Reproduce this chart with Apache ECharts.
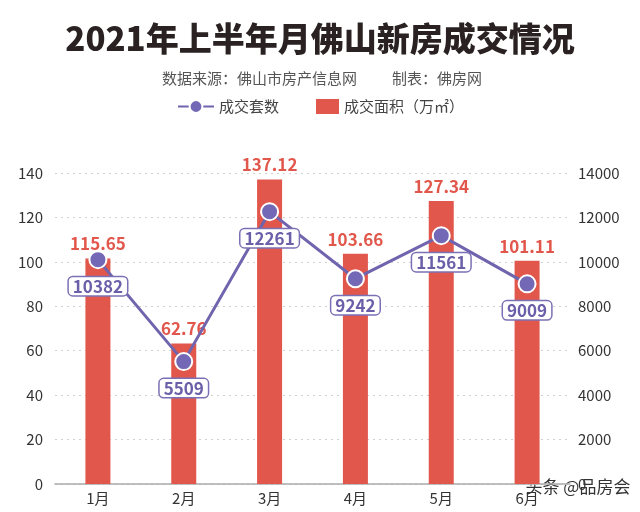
<!DOCTYPE html>
<html><head><meta charset="utf-8">
<script src="https://cdn.jsdelivr.net/npm/echarts@6/dist/echarts.min.js"></script>
<style>html,body{margin:0;padding:0;background:#fff}#c{width:640px;height:512px}</style>
</head><body><div id="c"></div>
<script>
var months = ['1月','2月','3月','4月','5月','6月'];
// bar heights as drawn in the picture, and the printed area labels
var areaDrawn = [101.5, 63.3, 137.12, 103.66, 127.34, 100.5];
var areaLabels = ['115.65','62.76','137.12','103.66','127.34','101.11'];
// line points as drawn, and the printed unit labels
var unitsDrawn = [10100, 5509, 12261, 9242, 11180, 9009];
var unitLabels = ['10382','5509','12261','9242','11561','9009'];
var leftTicks = [0,20,40,60,80,100,120,140];
var rightTicks = [0,2000,4000,6000,8000,10000,12000,14000];

var FONT = '"Noto Sans CJK SC", "Noto Sans", sans-serif';
var chart = echarts.init(document.getElementById('c'));
chart.setOption({
  backgroundColor: '#fff',
  textStyle: {fontFamily: FONT},
  animation: false,
  title: [
    {text: '2021年上半年月佛山新房成交情况', left: 'center', top: 17,
     textStyle: {fontSize: 33, fontWeight: 900, color: '#2a2222', fontFamily: FONT}},
    {text: '数据来源：佛山市房产信息网', left: 157, top: 66,
     textStyle: {fontSize: 15, fontWeight: 'normal', color: '#555', fontFamily: FONT}},
    {text: '制表：佛房网', left: 387, top: 66,
     textStyle: {fontSize: 15, fontWeight: 'normal', color: '#555', fontFamily: FONT}}
  ],
  legend: [
    {top: 94, left: 172, itemWidth: 36, itemHeight: 16, itemGap: 5,
     textStyle: {fontSize: 15, color: '#444', fontFamily: FONT},
     data: ['成交套数']},
    {top: 94, left: 311, itemWidth: 23, itemHeight: 15, itemGap: 5,
     textStyle: {fontSize: 15, color: '#444', fontFamily: FONT},
     data: [{name: '成交面积（万㎡）', icon: 'rect'}]}
  ],
  grid: {left: 55, right: 70, top: 173, bottom: 28},
  xAxis: {
    type: 'category', data: months,
    axisTick: {show: false},
    axisLine: {lineStyle: {color: '#aaa', width: 1.5}},
    axisLabel: {fontSize: 15, color: '#333', margin: 7}
  },
  yAxis: [
    {type: 'value', min: 0, max: 140, interval: 20,
     axisLine: {show: false}, axisTick: {show: false},
     axisLabel: {fontSize: 15, color: '#333', margin: 12,
       formatter: function (v) { return String(v); }},
     splitLine: {lineStyle: {color: '#d0d0d0', type: [2, 4], width: 1.2}}},
    {type: 'value', min: 0, max: 14000, interval: 2000,
     axisLine: {show: false}, axisTick: {show: false},
     axisLabel: {fontSize: 15, color: '#333', margin: 8,
       formatter: function (v) { return String(v); }},
     splitLine: {show: false}}
  ],
  series: [
    {name: '成交面积（万㎡）', type: 'bar', yAxisIndex: 0, barWidth: 25,
     data: areaDrawn,
     itemStyle: {color: '#e2574c'},
     z: 1,
     label: {show: true, position: 'top', distance: 6,
       formatter: function (p) { return areaLabels[p.dataIndex]; },
       fontSize: 17, fontWeight: 'bold', color: '#e2574c', fontFamily: FONT}},
    {name: '成交套数', type: 'line', yAxisIndex: 1,
     data: unitsDrawn,
     symbol: 'circle', symbolSize: 17,
     lineStyle: {color: '#6f64ad', width: 3},
     itemStyle: {color: '#7368b5', borderColor: '#fff', borderWidth: 2},
     z: 5,
     label: {show: true, position: 'bottom', distance: 8,
       formatter: function (p) { return unitLabels[p.dataIndex]; },
       fontSize: 17, fontWeight: 'bold', color: '#6a5fa8', fontFamily: FONT,
       backgroundColor: '#fff', borderColor: '#7a70b5', borderWidth: 1.5,
       borderRadius: 4, padding: [1, 4, 0, 4]}}
  ],
  graphic: [
    {type: 'text', left: 524, top: 477,
     style: {text: '头条 @品房会', fontSize: 17, fill: '#333', stroke: '#fff', lineWidth: 3, fontFamily: FONT}}
  ]
});
</script></body></html>
